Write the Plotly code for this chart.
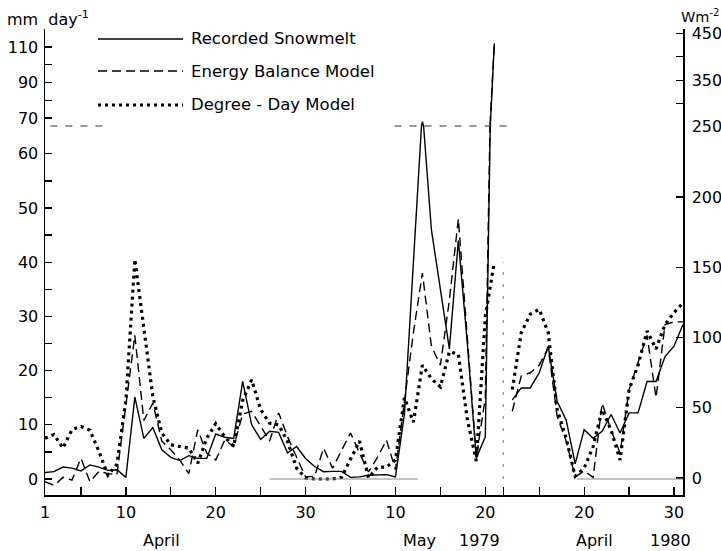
import plotly.graph_objects as go

# ---------------- data (x = day index along the broken time axis) ----------------
# 1979: April 1..30 -> 1..30, May 1..21 -> 31..51 ; 1980: April 12..31 -> 53..72
x79 = list(range(1, 52))
x80 = list(range(53, 73))

recorded_79 = [1.2, 1.35, 2.2, 2.0, 1.5, 2.6, 2.2, 1.6, 1.7, 0.3,
               15.1, 7.5, 9.5, 5.4, 4.0, 3.4, 4.3, 3.8, 3.8, 8.3,
               7.7, 7.5, 18.0, 10.0, 7.3, 8.8, 8.6, 4.8, 6.0, 3.8,
               2.3, 1.35, 1.4, 1.4, 0.3, 0.4, 0.7, 0.8, 0.8, 0.4,
               12.0, 40.0, 68.0, 46.0, 35.0, 24.0, 44.0, 25.0, 3.9, 7.8,
               112.0]
energy_79 = [-0.5, -1.2, 0.3, -0.2, 3.8, -0.5, 1.4, 1.0, 0.8, 13.5,
             26.5, 10.8, 14.0, 7.0, 5.4, 3.5, 1.0, 9.1, 4.8, 3.5,
             7.2, 6.0, 12.0, 12.5, 9.7, 7.0, 12.2, 7.8, 4.0, 0.4,
             0.5, 5.7, 2.0, 5.2, 8.5, 4.8, 1.3, 4.0, 7.2, 1.7,
             14.0, 27.0, 38.0, 24.5, 21.0, 33.0, 48.0, 26.0, 4.0, 15.0,
             112.0]
degday_79 = [7.5, 8.2, 5.7, 9.1, 9.7, 9.0, 5.1, 0.7, 2.7, 14.5,
             40.5, 28.0, 15.2, 8.5, 6.3, 6.0, 5.7, 2.9, 7.5, 10.2,
             7.8, 6.0, 14.5, 18.3, 12.8, 10.3, 10.0, 6.9, 2.0, 0.2,
             0.0, 0.0, 0.0, 0.3, 3.5, 7.0, 0.2, 2.2, 2.2, 3.5,
             15.0, 10.5, 21.0, 18.5, 17.0, 23.5, 23.0, 11.0, 3.3, 30.0,
             40.0]

recorded_80 = [14.6, 16.8, 16.8, 19.6, 24.5, 14.3, 10.9, 2.8, 9.1, 7.5,
               8.8, 11.9, 8.5, 12.2, 12.2, 18.0, 18.0, 22.6, 24.5, 28.5]
energy_80 = [12.5, 19.0, 19.6, 21.0, 24.2, 11.5, 7.0, 0.4, 1.5, 0.3,
             14.0, 9.0, 4.8, 16.5, 21.5, 26.5, 15.0, 28.5, 29.0, 29.0]
degday_80 = [16.5, 27.0, 30.4, 31.3, 27.0, 12.8, 7.5, 0.5, 2.0, 6.0,
             12.8, 9.0, 3.5, 16.5, 21.0, 27.3, 24.0, 28.5, 30.7, 32.5]

x_tickvals = [1, 5, 10, 15, 20, 25, 30, 35, 40, 45, 50, 52, 56, 61, 66, 71]
x_ticktext = ["1", "", "10", "", "20", "", "30", "", "10", "", "20", "", "", "20", "", "30"]

month_labels = ["April", "May", "1979", "April", "1980"]
month_pos = [14.0, 42.7, 49.3, 62.1, 70.6]

left_low_ticks = list(range(0, 66, 5))
left_up_ticks = list(range(70, 121, 10))
right_low_ticks = list(range(0, 251, 50))
right_up_ticks = [300, 350, 400, 450]

series_names = ["Recorded Snowmelt", "Energy Balance Model", "Degree - Day Model"]

# ---------------- styling ----------------
FONT = "DejaVu Sans"
styles = [
    dict(color="black", width=1.4),
    dict(color="black", width=1.4, dash="9px,5px"),
    dict(color="black", width=3.2, dash="3px,4px"),
]

# broken-axis geometry
W, H = 721, 551
ML, MR, MT, MB = 45, 38, 29, 56
plot_h = H - MT - MB
break_frac = (495 - 126) / plot_h

fig = go.Figure()

data79 = [recorded_79, energy_79, degday_79]
data80 = [recorded_80, energy_80, degday_80]

for i in range(3):
    for ax in ["y", "y2"]:
        fig.add_trace(go.Scatter(x=x79, y=data79[i], mode="lines", line=styles[i],
                                 yaxis=ax, showlegend=False, hoverinfo="skip"))
    fig.add_trace(go.Scatter(x=x80, y=data80[i], mode="lines", line=styles[i],
                             yaxis="y", showlegend=False, hoverinfo="skip"))

# invisible traces to activate the right-hand axes
fig.add_trace(go.Scatter(x=[None], y=[None], yaxis="y3", showlegend=False, hoverinfo="skip"))
fig.add_trace(go.Scatter(x=[None], y=[None], yaxis="y4", showlegend=False, hoverinfo="skip"))

axis_common = dict(showgrid=False, zeroline=False, showline=True, linecolor="black",
                   linewidth=1.5, ticks="inside", ticklen=7, tickwidth=1.3,
                   tickcolor="black", automargin=False,
                   tickfont=dict(family=FONT, size=16, color="black"))

fig.update_layout(
    template="none",
    width=W, height=H,
    margin=dict(l=ML, r=MR, t=MT, b=MB),
    paper_bgcolor="white", plot_bgcolor="white",
    showlegend=False,
    xaxis=dict(domain=[0, 1], range=[1, 72], anchor="y",
               tickmode="array", tickvals=x_tickvals, ticktext=x_ticktext,
               ticklabelstandoff=2, **{**axis_common, "ticklen": 8}),
    yaxis=dict(domain=[0, break_frac], range=[-2.95, 65.13], anchor="x",
               tickmode="array", tickvals=left_low_ticks,
               ticktext=[str(v) if v % 10 == 0 else "" for v in left_low_ticks],
               ticklabelstandoff=2, **axis_common),
    yaxis2=dict(domain=[break_frac, 1], range=[65.5, 120.1], anchor="x",
                tickmode="array", tickvals=left_up_ticks,
                ticktext=["70", "", "90", "", "110", ""],
                ticklabelstandoff=2, **axis_common),
    yaxis3=dict(overlaying="y", side="right", anchor="x", range=[-12.1, 250.5],
                tickmode="array", tickvals=right_low_ticks,
                ticktext=[str(v) for v in right_low_ticks],
                ticklabelstandoff=4, **axis_common),
    yaxis4=dict(overlaying="y2", side="right", anchor="x", range=[252.8, 459],
                tickmode="array", tickvals=right_up_ticks,
                ticktext=["", "350", "", "450"],
                ticklabelstandoff=4, **axis_common),
)

def px_x(px):
    return (px - ML) / (W - ML - MR)

def px_y(py):
    return (H - MB - py) / plot_h

shapes = []
# legend samples
leg_y = [39, 71, 105]
for i in range(3):
    shapes.append(dict(type="line", xref="paper", yref="paper",
                       x0=px_x(98), x1=px_x(183), y0=px_y(leg_y[i]), y1=px_y(leg_y[i]),
                       line=styles[i]))
# dashed line at the axis break
for xa, xb in [(1.6, 7.9), (39.9, 52.9)]:
    shapes.append(dict(type="line", xref="x", yref="paper", x0=xa, x1=xb,
                       y0=break_frac, y1=break_frac,
                       line=dict(color="#333", width=1.2, dash="7px,8px")))
# light zero base lines
for xa, xb in [(26, 42.5), (60.2, 72)]:
    shapes.append(dict(type="line", xref="x", yref="y", x0=xa, x1=xb, y0=0, y1=0,
                       line=dict(color="#888", width=1)))
# break between 1979 and 1980
shapes.append(dict(type="line", xref="x", yref="y", x0=52, x1=52, y0=0, y1=40,
                   line=dict(color="#777", width=1, dash="3px,9px")))
fig.update_layout(shapes=shapes)

ann = []
for i in range(3):
    ann.append(dict(text=series_names[i], xref="paper", yref="paper",
                    x=px_x(189), y=px_y(leg_y[i]), xanchor="left", yanchor="middle",
                    showarrow=False, font=dict(family=FONT, size=16.5, color="black")))
ann.append(dict(text="mm  day<sup>-1</sup>", xref="paper", yref="paper",
                x=px_x(5), y=px_y(18), xanchor="left", yanchor="middle",
                showarrow=False, font=dict(family=FONT, size=16, color="black")))
ann.append(dict(text="Wm<sup>-2</sup>", xref="paper", yref="paper",
                x=px_x(679), y=px_y(16), xanchor="left", yanchor="middle",
                showarrow=False, font=dict(family=FONT, size=14.5, color="black")))
for lab, pos in zip(month_labels, month_pos):
    ann.append(dict(text=lab, xref="x", yref="paper", x=pos, y=px_y(540),
                    xanchor="center", yanchor="middle", showarrow=False,
                    font=dict(family=FONT, size=16, color="black")))
fig.update_layout(annotations=ann)

fig.write_html("out.html",
               config={"displayModeBar": False, "staticPlot": True},
               post_script="document.body.style.margin='0';document.body.style.padding='0';")
